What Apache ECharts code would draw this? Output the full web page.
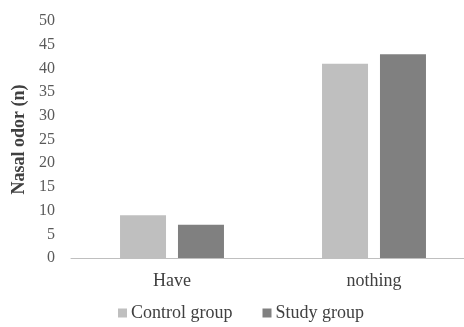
<!DOCTYPE html>
<html><head><meta charset="utf-8">
<script src="https://cdn.jsdelivr.net/npm/echarts@6/dist/echarts.min.js"></script>
<style>html,body{margin:0;padding:0;background:#fff}#c{width:464px;height:327px}</style>
</head><body><div id="c"></div>
<script>
const categories = ['Have', 'nothing'];
const controlGroup = [9, 41];
const studyGroup = [7, 43];
const yTicks = { min: 0, max: 50, interval: 5 };

const font = "'Liberation Serif', 'Times New Roman', serif";
const chart = echarts.init(document.getElementById('c'));
chart.setOption({
  animation: false,
  grid: { left: 71, right: -11, top: 21, bottom: 69, outerBoundsMode: 'none', containLabel: false },
  legend: {
    bottom: 0, left: 113,
    itemWidth: 9, itemHeight: 9, itemGap: 30,
    icon: 'rect',
    textStyle: { fontFamily: font, fontSize: 18, color: '#404040', padding: [0, 0, 0, -1] },
    data: ['Control group', 'Study group']
  },
  xAxis: {
    type: 'category', data: categories,
    axisLine: { lineStyle: { color: '#bfbfbf' } },
    axisTick: { show: false },
    axisLabel: { fontFamily: font, fontSize: 18, color: '#404040', margin: 14 }
  },
  yAxis: {
    type: 'value', min: yTicks.min, max: yTicks.max, interval: yTicks.interval,
    name: 'Nasal odor (n)', nameLocation: 'middle', nameGap: 34,
    nameTextStyle: { fontFamily: font, fontSize: 18, fontWeight: 'bold', color: '#404040' },
    axisLine: { show: false }, axisTick: { show: false },
    splitLine: { show: false },
    axisLabel: { fontFamily: font, fontSize: 16, color: '#595959', margin: 16 }
  },
  series: [
    { name: 'Control group', type: 'bar', data: controlGroup, barWidth: 46, barGap: '26%', itemStyle: { color: '#bfbfbf' } },
    { name: 'Study group', type: 'bar', data: studyGroup, barWidth: 46, itemStyle: { color: '#808080' } }
  ]
});
</script></body></html>
